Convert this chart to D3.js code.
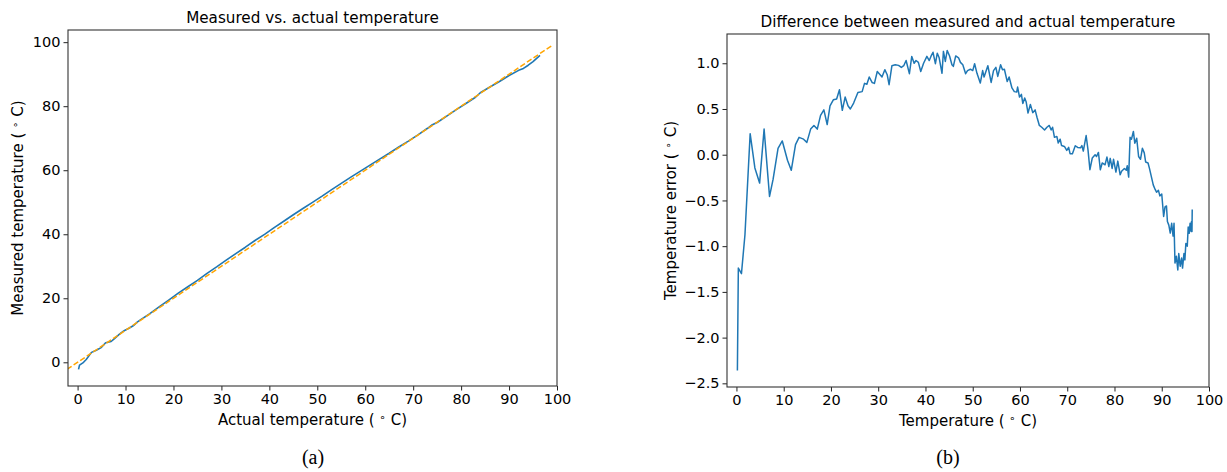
<!DOCTYPE html>
<html>
<head>
<meta charset="utf-8">
<script src="https://cdn.jsdelivr.net/npm/d3@7"></script>
<style>
  html, body { margin: 0; padding: 0; background: #fff; }
  svg { display: block; }
  text { font-family: "DejaVu Sans", sans-serif; fill: #000; }
  .cap { font-family: "Liberation Serif", "DejaVu Serif", serif; }
</style>
</head>
<body>
<svg id="chart" width="1227" height="472"></svg>
<script>
// ---------- data ----------
// Panel (a): actual vs measured temperature (°C)
const actualTemp = [0.2, 0.4, 1.1, 1.8, 2.9, 3.9, 4.9, 5.85, 7.0, 7.75, 8.8, 9.7, 10.8, 11.6, 12.5, 13.25,
  15, 17, 19, 21, 23, 25, 27, 29, 31, 33, 35, 37, 39, 41, 43, 45, 47, 49, 51, 53, 55, 57, 59, 61, 63,
  65, 67, 69, 71, 73, 74, 75, 77, 79, 81, 83, 84, 86, 88, 90, 92, 93, 94, 95, 96.45];
const measuredTemp = [-2.2, -0.9, -0.2, 0.9, 3.1, 3.75, 4.6, 6.1, 6.5, 7.5, 8.9, 9.85, 10.7, 11.4, 12.6, 13.4,
  15.1, 17.3, 19.4, 21.6, 23.6, 25.6, 27.8, 29.8, 31.9, 33.95, 35.95, 38.05, 39.95, 42.05, 44.05, 46.1, 48.05, 49.95, 51.9, 53.95, 55.9, 57.85, 59.7, 61.6, 63.45,
  65.3, 67.25, 69.1, 71.05, 73.1, 74.2, 74.9, 76.9, 78.95, 80.85, 82.8, 84.2, 86.0, 87.7, 89.6, 91.2, 91.8, 92.8, 93.9, 95.85];
const idealX = [-2.2, 98.8];
const idealY = [-2.2, 98.8];

// Panel (b): temperature error vs temperature
const errTemp = [0.2, 0.4, 1.06, 1.8, 2.9, 3.9, 4.9, 5.85, 7.0, 7.75, 8.8, 9.7, 10.8, 11.6, 12.5, 13.25, 14.2, 14.9,
  15.7, 16.4, 17.1, 17.8, 18.5, 19.2, 19.8, 20.5, 21.2, 21.8, 22.4, 23.0, 23.6, 24.1, 24.8, 25.7, 26.6, 27.1, 27.6,
  28.1, 28.7, 29.2, 29.8, 30.4, 30.8, 31.4, 31.9, 32.3, 32.9, 33.6, 34.3, 34.9, 35.4, 35.9, 36.6, 37.1, 37.6, 38.0,
  38.5, 39.0, 39.6, 40.3, 40.8, 41.2, 41.6, 42.1, 42.5, 42.9, 43.5, 43.8, 44.2, 44.6, 45.1, 45.6, 45.9, 46.4, 47.0,
  47.4, 47.9, 48.5, 48.9, 49.5, 50.0, 50.4, 50.9, 51.6, 52.1, 52.4, 53.2, 53.9, 54.4, 54.9, 55.3, 55.9, 56.3, 56.7,
  57.3, 57.7, 58.3, 58.8, 59.3, 59.5, 59.9, 60.3, 60.6, 61.0, 61.3, 61.7, 62.2, 62.7, 63.2, 63.6, 64.1, 64.6, 65.2,
  65.7, 66.2, 66.6, 66.9, 67.3, 67.8, 68.1, 68.5, 68.8, 69.4, 69.9, 70.3, 70.6, 71.1, 71.7, 72.2, 72.8, 73.1, 73.4,
  74.0, 74.4, 74.8, 75.3, 75.9, 76.2, 76.6, 77.0, 77.4, 78.0, 78.4, 78.8, 79.1, 79.5, 79.8, 80.3, 80.7, 81.2, 81.5,
  82.1, 82.5, 82.7, 83.0, 83.3, 83.6, 84.0, 84.3, 84.7, 85.1, 85.5, 85.9, 86.3, 86.6, 87.1, 87.4, 87.8, 88.2, 88.6,
  88.9, 89.3, 89.6, 90.0, 90.4, 90.7, 91.0, 91.2, 91.5, 91.8, 92.1, 92.4, 92.6, 92.8, 93.1, 93.4, 93.6, 93.9, 94.2,
  94.4, 94.7, 94.9, 95.1, 95.4, 95.6, 95.8, 96.0, 96.2, 96.3, 96.4, 96.45];
const errValue = [-2.36, -1.24, -1.30, -0.875, 0.23, -0.145, -0.31, 0.28, -0.456, -0.27, 0.07, 0.15, -0.06, -0.17, 0.11, 0.19, 0.17, 0.135,
  0.28, 0.32, 0.28, 0.43, 0.49, 0.33, 0.535, 0.60, 0.61, 0.71, 0.485, 0.63, 0.535, 0.50, 0.565, 0.68, 0.69, 0.78, 0.77,
  0.85, 0.79, 0.78, 0.91, 0.875, 0.85, 0.93, 0.875, 0.766, 0.973, 0.984, 0.977, 0.955, 0.973, 1.03, 0.886, 1.075, 1.0, 1.03,
  1.01, 0.91, 1.0, 1.075, 1.03, 1.08, 1.12, 0.995, 1.11, 1.06, 0.89, 1.13, 1.02, 1.14, 1.08, 0.984, 0.966, 1.08, 1.06,
  1.01, 0.984, 0.886, 0.92, 0.935, 0.92, 0.995, 0.89, 0.784, 0.92, 0.85, 0.973, 0.79, 0.92, 0.955, 0.856, 0.984, 0.93, 0.935,
  0.80, 0.85, 0.73, 0.69, 0.685, 0.74, 0.63, 0.66, 0.56, 0.62, 0.58, 0.456, 0.55, 0.46, 0.49, 0.41, 0.32, 0.30, 0.27,
  0.30, 0.32, 0.27, 0.30, 0.19, 0.20, 0.128, 0.17, 0.10, 0.09, 0.047, 0.08, 0.011, 0.011, 0.098, 0.08, 0.075, 0.10, 0.04,
  0.21, 0.05, -0.164, -0.036, 0.0, -0.02, 0.025, -0.164, -0.09, -0.11, -0.026, -0.13, -0.04, -0.15, -0.05, -0.19, -0.07, -0.22, -0.18,
  -0.15, -0.17, -0.12, -0.245, 0.19, 0.17, 0.255, 0.125, 0.18, -0.02, -0.05, 0.07, 0.02, -0.08, -0.09, -0.15, -0.24, -0.33, -0.38,
  -0.41, -0.39, -0.45, -0.43, -0.675, -0.57, -0.56, -0.73, -0.77, -0.857, -0.75, -0.89, -0.75, -1.185, -1.11, -1.26, -1.08, -1.22, -1.13,
  -1.24, -1.08, -1.15, -0.97, -1.0, -0.79, -0.86, -0.75, -0.84, -0.73, -0.84, -0.60];

// tick values
const xTicks = [0, 10, 20, 30, 40, 50, 60, 70, 80, 90, 100];
const leftYTicks = [0, 20, 40, 60, 80, 100];
const rightYTicks = [-2.5, -2.0, -1.5, -1.0, -0.5, 0.0, 0.5, 1.0];

// ---------- drawing ----------
const svg = d3.select("#chart");
const BLUE = "#1f77b4", ORANGE = "#ffa500";

function degLabel(sel, prefix) {
  sel.text(null);
  sel.append("tspan").text(prefix + "( ");
  sel.append("tspan").attr("baseline-shift", "38%").attr("font-size", "0.7em").text("∘");
  sel.append("tspan").text(" C)");
}

function panel(o) {
  const g = svg.append("g");
  const x = d3.scaleLinear().domain(o.xDomain).range([o.x0, o.x1]);
  const y = d3.scaleLinear().domain(o.yDomain).range([o.y1, o.y0]);

  const clipId = "clip" + o.id;
  g.append("clipPath").attr("id", clipId).append("rect")
    .attr("x", o.x0).attr("y", o.y0).attr("width", o.x1 - o.x0).attr("height", o.y1 - o.y0);

  const plot = g.append("g").attr("clip-path", `url(#${clipId})`);
  o.draw(plot, x, y);

  // axes
  const xa = g.append("g").attr("transform", `translate(0,${o.y1})`)
    .call(d3.axisBottom(x).tickValues(xTicks).tickSize(4.5).tickPadding(3).tickFormat(d3.format("d")));
  const ya = g.append("g").attr("transform", `translate(${o.x0},0)`)
    .call(d3.axisLeft(y).tickValues(o.yTicks).tickSize(4.5).tickPadding(3).tickFormat(o.yFormat));
  [xa, ya].forEach(a => {
    a.select(".domain").remove();
    a.selectAll(".tick line").attr("stroke", "#222").attr("stroke-width", 1);
    a.selectAll(".tick text").attr("font-size", 14.5).attr("font-family", "DejaVu Sans").attr("fill", "#000");
  });
  // frame
  g.append("rect").attr("x", o.x0).attr("y", o.y0).attr("width", o.x1 - o.x0).attr("height", o.y1 - o.y0)
    .attr("fill", "none").attr("stroke", "#333").attr("stroke-width", 1.1);

  // title
  g.append("text").attr("x", (o.x0 + o.x1) / 2).attr("y", o.y0 - 7).attr("text-anchor", "middle")
    .attr("font-size", 15.2).text(o.title);
  // x label
  g.append("text").attr("x", (o.x0 + o.x1) / 2).attr("y", o.y1 + 39).attr("text-anchor", "middle")
    .attr("font-size", 15).call(degLabel, o.xLabel);
  // y label
  g.append("text").attr("transform", `translate(${o.yLabelX},${(o.y0 + o.y1) / 2}) rotate(-90)`)
    .attr("text-anchor", "middle").attr("font-size", 15).call(degLabel, o.yLabel);
  // caption
  g.append("text").attr("class", "cap").attr("x", o.capX).attr("y", 464).attr("text-anchor", "middle")
    .attr("font-size", 20).text(o.caption);
}

panel({
  id: "a", x0: 68, x1: 557, y0: 30, y1: 386,
  xDomain: [-2, 100], yDomain: [-7.4, 103.8],
  yTicks: leftYTicks, yFormat: d3.format("d"),
  title: "Measured vs. actual temperature",
  xLabel: "Actual temperature ", yLabel: "Measured temperature ",
  yLabelX: 23, caption: "(a)", capX: 313,
  draw: (p, x, y) => {
    const pts = actualTemp.map((t, i) => [t, measuredTemp[i]]);
    p.append("path").datum(pts).attr("fill", "none").attr("stroke", BLUE).attr("stroke-width", 1.6)
      .attr("stroke-linejoin", "round")
      .attr("d", d3.line().x(d => x(d[0])).y(d => y(d[1])));
    const ideal = idealX.map((t, i) => [t, idealY[i]]);
    p.append("path").datum(ideal).attr("fill", "none").attr("stroke", ORANGE).attr("stroke-width", 1.5)
      .attr("stroke-dasharray", "5.5,2.4")
      .attr("d", d3.line().x(d => x(d[0])).y(d => y(d[1])));
  }
});

panel({
  id: "b", x0: 727, x1: 1209, y0: 34, y1: 387,
  xDomain: [-2, 100], yDomain: [-2.54, 1.32],
  yTicks: rightYTicks, yFormat: d3.format(".1f"),
  title: "Difference between measured and actual temperature",
  xLabel: "Temperature ", yLabel: "Temperature error ",
  yLabelX: 676, caption: "(b)", capX: 948,
  draw: (p, x, y) => {
    const pts = errTemp.map((t, i) => [t, errValue[i]]);
    p.append("path").datum(pts).attr("fill", "none").attr("stroke", BLUE).attr("stroke-width", 1.5)
      .attr("stroke-linejoin", "round")
      .attr("d", d3.line().x(d => x(d[0])).y(d => y(d[1])));
  }
});
</script>
</body>
</html>
